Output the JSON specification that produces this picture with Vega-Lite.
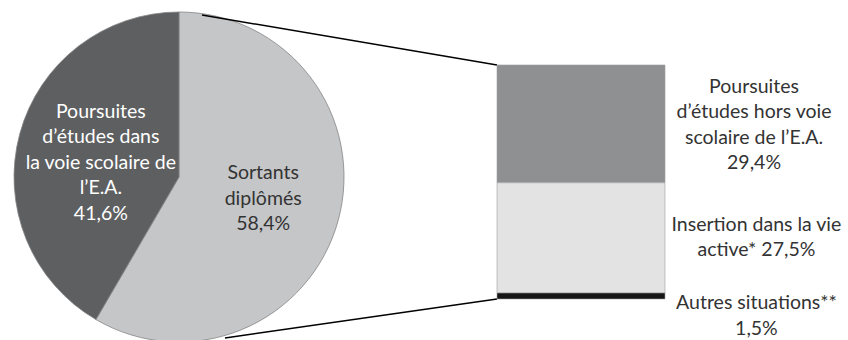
{
  "$schema": "https://vega.github.io/schema/vega-lite/v6.json",
  "width": 848,
  "height": 340,
  "padding": 0,
  "autosize": {"type": "none"},
  "background": "#ffffff",
  "config": {
    "view": {"stroke": null},
    "text": {"font": "Lato", "fontSize": 19.5, "lineHeight": 25.5, "lineBreak": "\n"}
  },
  "datasets": {
    "pie": [
      {"cat": "Sortants diplômés", "value": 58.4, "order": 1, "label": "Sortants\ndiplômés\n58,4%"},
      {"cat": "Poursuites d’études dans la voie scolaire de l’E.A.", "value": 41.6, "order": 2, "label": "Poursuites\nd’études dans\nla voie scolaire de\nl’E.A.\n41,6%"}
    ],
    "bar": [
      {"cat": "Poursuites d’études hors voie scolaire de l’E.A.", "value": 29.4, "order": 3, "label": "Poursuites\nd’études hors voie\nscolaire de l’E.A.\n29,4%"},
      {"cat": "Insertion dans la vie active*", "value": 27.5, "order": 2, "label": "Insertion dans la vie\nactive* 27,5%"},
      {"cat": "Autres situations**", "value": 1.5, "order": 1, "label": "Autres situations**\n1,5%"}
    ]
  },
  "layer": [
    {
      "data": {"name": "pie"},
      "transform": [
        {"stack": "value", "groupby": [], "sort": [{"field": "order", "order": "ascending"}], "as": ["t0", "t1"]}
      ],
      "mark": {"type": "arc", "outerRadius": 165, "stroke": "#858585", "strokeWidth": 0.8},
      "encoding": {
        "x": {"datum": 21.11, "type": "quantitative", "stack": null, "scale": {"domain": [0, 100], "nice": false, "zero": false}, "axis": null},
        "y": {"datum": 30.45, "type": "quantitative", "stack": null, "scale": {"domain": [-10.23, 74.62], "nice": false, "zero": false}, "axis": null},
        "theta": {"field": "t0", "type": "quantitative", "scale": {"domain": [0, 100]}},
        "theta2": {"field": "t1"},
        "color": {
          "field": "cat", "type": "nominal", "legend": null,
          "scale": {
            "domain": ["Sortants diplômés", "Poursuites d’études dans la voie scolaire de l’E.A.", "Poursuites d’études hors voie scolaire de l’E.A.", "Insertion dans la vie active*", "Autres situations**"],
            "range": ["#c5c6c8", "#5e5f61", "#8f9092", "#e3e3e3", "#151515"]
          }
        }
      }
    },
    {
      "data": {"name": "pie"},
      "transform": [
        {"stack": "value", "groupby": [], "sort": [{"field": "order", "order": "ascending"}], "as": ["t0", "t1"]},
        {"fold": ["t0", "t1"], "as": ["edge", "t"]},
        {"aggregate": [{"op": "mean", "field": "t", "as": "tmid"}], "groupby": ["cat", "label", "order"]},
        {"filter": "datum.order === 1"}
      ],
      "mark": {"type": "text", "radius": 82, "align": "center", "baseline": "middle", "color": "#333333", "dy": -25, "dx": 5},
      "encoding": {
        "x": {"datum": 21.11, "type": "quantitative", "stack": null, "scale": {"domain": [0, 100], "nice": false, "zero": false}, "axis": null},
        "y": {"datum": 30.45, "type": "quantitative", "stack": null, "scale": {"domain": [-10.23, 74.62], "nice": false, "zero": false}, "axis": null},
        "theta": {"field": "tmid", "type": "quantitative", "scale": {"domain": [0, 100]}},
        "text": {"field": "label", "type": "nominal"}
      }
    },
    {
      "data": {"name": "pie"},
      "transform": [
        {"stack": "value", "groupby": [], "sort": [{"field": "order", "order": "ascending"}], "as": ["t0", "t1"]},
        {"fold": ["t0", "t1"], "as": ["edge", "t"]},
        {"aggregate": [{"op": "mean", "field": "t", "as": "tmid"}], "groupby": ["cat", "label", "order"]},
        {"filter": "datum.order === 2"}
      ],
      "mark": {"type": "text", "radius": 82, "align": "center", "baseline": "middle", "color": "#ffffff", "dy": -44, "dx": 1},
      "encoding": {
        "x": {"datum": 21.11, "type": "quantitative", "stack": null, "scale": {"domain": [0, 100], "nice": false, "zero": false}, "axis": null},
        "y": {"datum": 30.45, "type": "quantitative", "stack": null, "scale": {"domain": [-10.23, 74.62], "nice": false, "zero": false}, "axis": null},
        "theta": {"field": "tmid", "type": "quantitative", "scale": {"domain": [0, 100]}},
        "text": {"field": "label", "type": "nominal"}
      }
    },
    {
      "data": {"values": [{}]},
      "mark": {"type": "rule", "color": "#000000", "strokeWidth": 1.5},
      "encoding": {
        "x": {"datum": 23.82, "type": "quantitative", "scale": {"domain": [0, 100], "nice": false, "zero": false}, "axis": null},
        "y": {"datum": 70.88, "type": "quantitative", "scale": {"domain": [-10.23, 74.62], "nice": false, "zero": false}, "axis": null},
        "x2": {"datum": 58.61},
        "y2": {"datum": 58.4}
      }
    },
    {
      "data": {"values": [{}]},
      "mark": {"type": "rule", "color": "#000000", "strokeWidth": 1.5},
      "encoding": {
        "x": {"datum": 26.53, "type": "quantitative", "scale": {"domain": [0, 100], "nice": false, "zero": false}, "axis": null},
        "y": {"datum": -9.73, "type": "quantitative", "scale": {"domain": [-10.23, 74.62], "nice": false, "zero": false}, "axis": null},
        "x2": {"datum": 58.61},
        "y2": {"datum": 0}
      }
    },
    {
      "data": {"name": "bar"},
      "transform": [
        {"stack": "value", "groupby": [], "sort": [{"field": "order", "order": "ascending"}], "as": ["y0", "y1"]}
      ],
      "mark": {"type": "rect", "stroke": "#a0a0a0", "strokeWidth": 0.6},
      "encoding": {
        "x": {"datum": 58.61, "type": "quantitative", "scale": {"domain": [0, 100], "nice": false, "zero": false}, "axis": null},
        "x2": {"datum": 78.42},
        "y": {"field": "y0", "type": "quantitative", "scale": {"domain": [-10.23, 74.62], "nice": false, "zero": false}, "axis": null},
        "y2": {"field": "y1"},
        "color": {
          "field": "cat", "type": "nominal", "legend": null,
          "scale": {
            "domain": ["Sortants diplômés", "Poursuites d’études dans la voie scolaire de l’E.A.", "Poursuites d’études hors voie scolaire de l’E.A.", "Insertion dans la vie active*", "Autres situations**"],
            "range": ["#c5c6c8", "#5e5f61", "#8f9092", "#e3e3e3", "#151515"]
          }
        }
      }
    },
    {
      "data": {"name": "bar"},
      "transform": [
        {"stack": "value", "groupby": [], "sort": [{"field": "order", "order": "ascending"}], "as": ["y0", "y1"]},
        {"fold": ["y0", "y1"], "as": ["edge", "yy"]},
        {"aggregate": [{"op": "mean", "field": "yy", "as": "ymid"}], "groupby": ["cat", "label", "order"]},
        {"filter": "datum.order === 3"}
      ],
      "mark": {"type": "text", "align": "center", "baseline": "middle", "color": "#333333", "dy": -37},
      "encoding": {
        "x": {"datum": 88.92, "type": "quantitative", "scale": {"domain": [0, 100], "nice": false, "zero": false}, "axis": null},
        "y": {"field": "ymid", "type": "quantitative", "scale": {"domain": [-10.23, 74.62], "nice": false, "zero": false}, "axis": null},
        "text": {"field": "label", "type": "nominal"}
      }
    },
    {
      "data": {"name": "bar"},
      "transform": [
        {"stack": "value", "groupby": [], "sort": [{"field": "order", "order": "ascending"}], "as": ["y0", "y1"]},
        {"fold": ["y0", "y1"], "as": ["edge", "yy"]},
        {"aggregate": [{"op": "mean", "field": "yy", "as": "ymid"}], "groupby": ["cat", "label", "order"]},
        {"filter": "datum.order === 2"}
      ],
      "mark": {"type": "text", "align": "center", "baseline": "middle", "color": "#333333", "dy": -13},
      "encoding": {
        "x": {"datum": 89.2, "type": "quantitative", "scale": {"domain": [0, 100], "nice": false, "zero": false}, "axis": null},
        "y": {"field": "ymid", "type": "quantitative", "scale": {"domain": [-10.23, 74.62], "nice": false, "zero": false}, "axis": null},
        "text": {"field": "label", "type": "nominal"}
      }
    },
    {
      "data": {"name": "bar"},
      "transform": [
        {"stack": "value", "groupby": [], "sort": [{"field": "order", "order": "ascending"}], "as": ["y0", "y1"]},
        {"fold": ["y0", "y1"], "as": ["edge", "yy"]},
        {"aggregate": [{"op": "mean", "field": "yy", "as": "ymid"}], "groupby": ["cat", "label", "order"]},
        {"filter": "datum.order === 1"}
      ],
      "mark": {"type": "text", "align": "center", "baseline": "middle", "color": "#333333", "dy": 7},
      "encoding": {
        "x": {"datum": 89.2, "type": "quantitative", "scale": {"domain": [0, 100], "nice": false, "zero": false}, "axis": null},
        "y": {"field": "ymid", "type": "quantitative", "scale": {"domain": [-10.23, 74.62], "nice": false, "zero": false}, "axis": null},
        "text": {"field": "label", "type": "nominal"}
      }
    }
  ]
}
